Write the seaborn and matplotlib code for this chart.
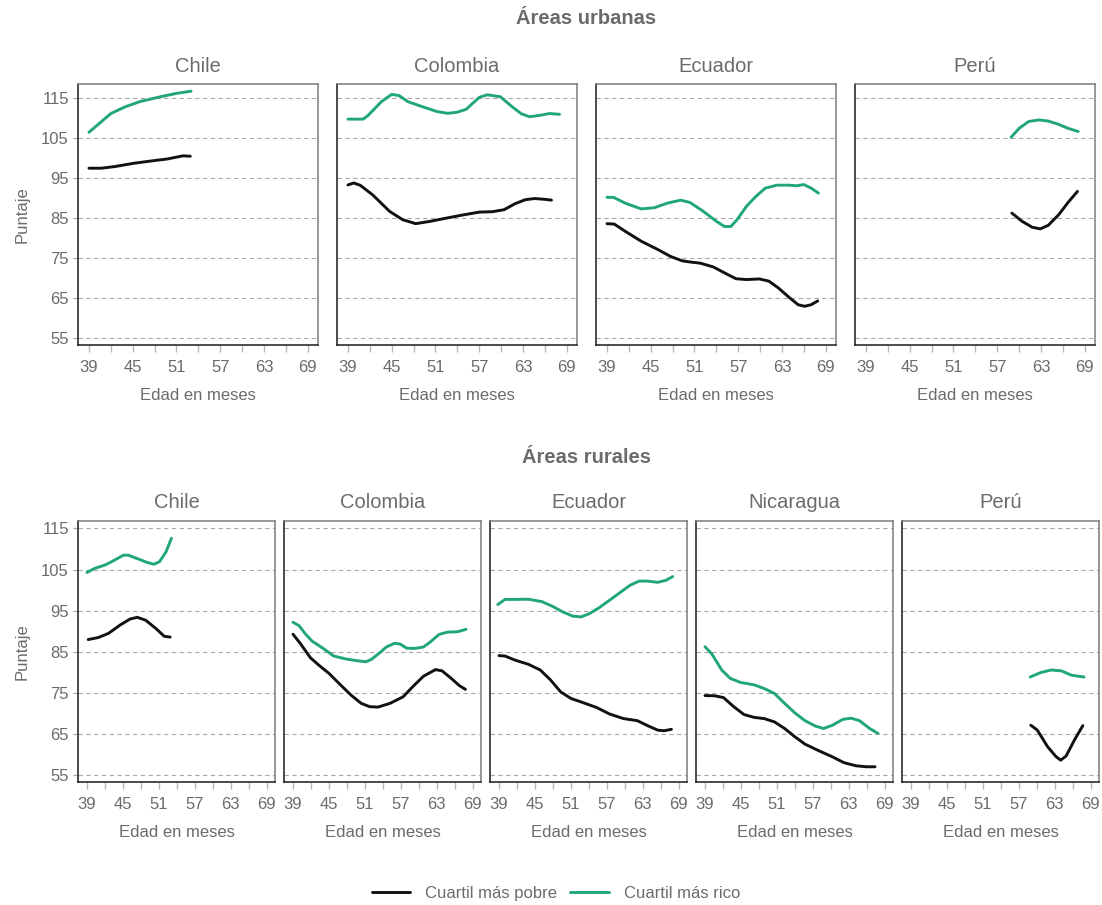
import numpy as np
import pandas as pd
import matplotlib
matplotlib.use("Agg")
import matplotlib.pyplot as plt
import seaborn as sns
from matplotlib.lines import Line2D

# ---- data: (edad en meses, puntaje) ----
GRUPOS = ["Cuartil más pobre", "Cuartil más rico"]
COLORES = {"Cuartil más pobre": "#111111", "Cuartil más rico": "#21a67a"}

PAISES_URB = ["Chile", "Colombia", "Ecuador", "Perú"]
PAISES_RUR = ["Chile", "Colombia", "Ecuador", "Nicaragua", "Perú"]

urb_chile_pobre = ([39, 40.7, 42.5, 45.2, 47.9, 49.7, 51.9, 52.9],
                   [97.5, 97.5, 97.9, 98.75, 99.4, 99.8, 100.6, 100.5])
urb_chile_rico = ([39, 42, 44, 46, 48.8, 51, 53],
                  [106.5, 111.2, 112.9, 114.2, 115.4, 116.25, 116.8])

urb_colombia_pobre = ([39, 39.8, 40.7, 42.4, 44.7, 46.5, 48.3, 50.3, 52.5, 54.8, 57, 58.8, 60.4,
                       61.9, 63.3, 64.6, 66, 66.9],
                      [93.3, 93.8, 93.2, 90.8, 86.7, 84.6, 83.6, 84.2, 85, 85.8, 86.5, 86.6, 87.1,
                       88.6, 89.6, 89.9, 89.7, 89.5])
urb_colombia_rico = ([39, 41.1, 41.8, 43.6, 45, 46, 47.2, 48.9, 51.2, 52.7, 53.9, 55.2, 57, 58.1,
                      59.9, 61.5, 62.8, 63.9, 65.5, 66.6, 68],
                     [109.8, 109.8, 110.8, 114.2, 116, 115.7, 114.2, 113.1, 111.7, 111.25, 111.5,
                      112.25, 115.25, 115.9, 115.4, 112.9, 111.1, 110.4, 110.8, 111.2, 111])

urb_ecuador_pobre = ([39, 40, 41.5, 43.7, 46, 47.7, 49.3, 50.4, 51.8, 53.6, 55.4, 56.7, 58.1, 59.9,
                      61.2, 62.5, 63.9, 65.2, 66.1, 67, 67.9],
                     [83.6, 83.5, 81.7, 79.2, 77.1, 75.4, 74.3, 74, 73.7, 72.75, 71, 69.8, 69.6,
                      69.75, 69.2, 67.5, 65.25, 63.3, 62.9, 63.3, 64.25])
urb_ecuador_rico = ([39, 39.9, 41.5, 43.7, 45.5, 47.3, 49.1, 50.4, 52.2, 54, 55.1, 56, 56.9, 58.1,
                     59.4, 60.7, 62.3, 63.9, 65, 66, 67, 68],
                    [90.2, 90.2, 88.75, 87.3, 87.6, 88.75, 89.5, 88.9, 86.7, 84.2, 82.9, 82.9, 84.75,
                     87.9, 90.4, 92.5, 93.25, 93.25, 93.1, 93.4, 92.5, 91.25])

urb_peru_pobre = ([59, 60.4, 61.8, 62.9, 64, 65.4, 66.7, 68],
                  [86.25, 84.2, 82.7, 82.3, 83.2, 85.8, 88.9, 91.7])
urb_peru_rico = ([58.9, 60, 61.3, 62.7, 64, 65.4, 66.7, 68.1],
                 [105.25, 107.5, 109.2, 109.6, 109.3, 108.5, 107.5, 106.7])

rur_chile_pobre = ([39.2, 40.9, 42.6, 44.5, 46.2, 47.4, 48.8, 50.5, 51.9, 52.9],
                   [88, 88.5, 89.5, 91.5, 93, 93.4, 92.7, 90.7, 88.8, 88.6])
rur_chile_rico = ([39, 40.3, 42, 43.1, 45.1, 45.9, 47.7, 49.1, 50.2, 51.1, 52.2, 53.1],
                  [104.3, 105.3, 106.1, 106.9, 108.5, 108.5, 107.5, 106.7, 106.3, 106.9, 109.3, 112.6])

rur_colombia_pobre = ([39, 40.2, 41.9, 43.3, 45, 47, 48.7, 50.4, 51.8, 53.2, 55.2, 57.4, 59.1, 60.8,
                       62.8, 63.9, 65.4, 66.8, 67.8],
                      [89.3, 87.1, 83.6, 81.8, 79.8, 76.9, 74.5, 72.5, 71.7, 71.6, 72.5, 74.1, 76.7,
                       79.1, 80.7, 80.4, 78.6, 76.8, 75.9])
rur_colombia_rico = ([39, 40, 41, 42.2, 43.9, 45.8, 47.8, 49.5, 51.2, 52.1, 53.5, 54.6, 56, 56.9, 58,
                      59.4, 60.8, 62, 63.4, 64.8, 66.5, 67.9],
                     [92.2, 91.4, 89.5, 87.6, 86, 84, 83.3, 82.9, 82.6, 83.2, 84.8, 86.2, 87.1, 86.9,
                      85.9, 85.85, 86.2, 87.5, 89.25, 89.8, 89.9, 90.5])

rur_ecuador_pobre = ([39, 40, 41.7, 43.9, 45.9, 47.6, 49.3, 51, 53, 55.3, 57.5, 59.8, 62.1, 63.8, 65.5,
                      66.6, 67.8],
                     [84.1, 84, 83, 82, 80.6, 78.2, 75.3, 73.7, 72.7, 71.5, 69.9, 68.8, 68.3, 67.1, 66,
                      65.85, 66.2])
rur_ecuador_rico = ([38.8, 40, 41.7, 43.9, 46.2, 47.9, 49.6, 51.3, 52.7, 54.1, 55.8, 57.5, 59.2, 60.9,
                     62.4, 63.8, 65.5, 66.9, 68],
                    [96.5, 97.75, 97.75, 97.8, 97.2, 96.1, 94.75, 93.7, 93.5, 94.3, 95.8, 97.6, 99.4,
                     101.2, 102.2, 102.2, 101.9, 102.4, 103.3])

rur_nicaragua_pobre = ([39, 40.6, 42.1, 43.8, 45.5, 47.2, 48.9, 50.6, 52.3, 54, 55.7, 58, 60.3, 62.2,
                        64.2, 65.9, 67.4],
                       [74.4, 74.35, 73.9, 71.7, 69.8, 69.1, 68.8, 68, 66.4, 64.4, 62.6, 61, 59.5, 58.1,
                        57.35, 57.1, 57.1])
rur_nicaragua_rico = ([39, 40.1, 41.8, 43.2, 44.9, 47.2, 48.9, 50.6, 52.3, 54, 55.7, 57.4, 58.8, 60.3,
                       62, 63.4, 64.8, 66.5, 67.9],
                      [86.25, 84.6, 80.6, 78.6, 77.6, 77, 76.1, 74.9, 72.5, 70.2, 68.3, 67, 66.4, 67.2,
                       68.6, 68.9, 68.3, 66.4, 65.2])

rur_peru_pobre = ([59, 60.1, 61.8, 63.2, 64, 64.9, 66.3, 67.7],
                  [67.2, 66, 62, 59.6, 58.7, 59.7, 63.6, 67.1])
rur_peru_rico = ([58.9, 60.7, 62.4, 64.1, 65.8, 67.9],
                 [78.9, 80, 80.6, 80.4, 79.35, 78.9])

URBANO = [(urb_chile_pobre, urb_chile_rico), (urb_colombia_pobre, urb_colombia_rico),
          (urb_ecuador_pobre, urb_ecuador_rico), (urb_peru_pobre, urb_peru_rico)]
RURAL = [(rur_chile_pobre, rur_chile_rico), (rur_colombia_pobre, rur_colombia_rico),
         (rur_ecuador_pobre, rur_ecuador_rico), (rur_nicaragua_pobre, rur_nicaragua_rico),
         (rur_peru_pobre, rur_peru_rico)]

Y_TICKS = [55, 65, 75, 85, 95, 105, 115]
X_TICKS = list(range(39, 70, 3))

GRIS = "#6b6b6b"


def _long(series_pair):
    rows = []
    for grupo, (xs, ys) in zip(GRUPOS, series_pair):
        for i, (x, y) in enumerate(zip(xs, ys)):
            rows.append({"edad": x, "puntaje": y, "grupo": grupo, "orden": i})
    return pd.DataFrame(rows)


def _panel(ax, pair, titulo, primero, ylim):
    df = _long(pair)
    sns.lineplot(data=df, x="edad", y="puntaje", hue="grupo", palette=COLORES,
                 estimator=None, sort=False, lw=2.1, legend=False, ax=ax, zorder=3)
    ax.set_xlim(37.5, 70.4)
    ax.set_ylim(*ylim)
    ax.set_yticks(Y_TICKS)
    ax.set_xticks(X_TICKS)
    ax.set_xticklabels([str(t) if (t - 39) % 6 == 0 else "" for t in X_TICKS])
    for y in Y_TICKS:
        ax.axhline(y, color="#a8a8a8", lw=0.8, ls=(0, (4, 3)), zorder=1)
    ax.tick_params(axis="x", bottom=True, direction="out", length=5, width=1.0,
                   color="#b8b8b8", labelcolor=GRIS, labelsize=12, pad=6)
    if primero:
        ax.tick_params(axis="y", left=True, direction="out", length=3.5, width=0.8,
                       color="#a8a8a8", labelcolor=GRIS, labelsize=12, pad=3)
        ax.set_ylabel("Puntaje", color=GRIS, fontsize=12, labelpad=8)
    else:
        ax.tick_params(axis="y", left=False, length=0, labelleft=False)
        ax.set_ylabel("")
    ax.set_xlabel("Edad en meses", color=GRIS, fontsize=12, labelpad=9)
    ax.set_title(titulo, color=GRIS, fontsize=14.5, pad=9)
    for s in ["left", "bottom"]:
        ax.spines[s].set_color("#1a1a1a")
        ax.spines[s].set_linewidth(1.1)
    for s in ["top", "right"]:
        ax.spines[s].set_color("#7a7a7a")
        ax.spines[s].set_linewidth(1.1)
    ax.grid(False)


def main():
    sns.set_style("white")
    plt.rcParams["font.family"] = ["Liberation Sans", "DejaVu Sans"]

    W, H = 1102, 905
    fig = plt.figure(figsize=(W / 100, H / 100), dpi=100)

    # top row (urbano)
    for i, (pais, pair) in enumerate(zip(PAISES_URB, URBANO)):
        left = 78 + i * 259
        ax = fig.add_axes([left / W, 1 - 345 / H, 240 / W, 261 / H])
        _panel(ax, pair, pais, i == 0, (53.2, 118.6))

    # bottom row (rural)
    for i, (pais, pair) in enumerate(zip(PAISES_RUR, RURAL)):
        left = 78 + i * 206
        ax = fig.add_axes([left / W, 1 - 782 / H, 197 / W, 261 / H])
        _panel(ax, pair, pais, i == 0, (53.4, 116.8))

    fig.text(586 / W, 1 - 19 / H, "Áreas urbanas", ha="center", va="center",
             fontsize=14.5, fontweight="bold", color=GRIS)
    fig.text(586 / W, 1 - 457 / H, "Áreas rurales", ha="center", va="center",
             fontsize=14.5, fontweight="bold", color=GRIS)

    handles = [Line2D([0], [0], color=COLORES[g], lw=2.1) for g in GRUPOS]
    leg = fig.legend(handles, GRUPOS, loc="center", bbox_to_anchor=(556 / W, 1 - 893 / H),
                     ncol=2, frameon=False, fontsize=12, handlelength=2.3,
                     columnspacing=0.8, handletextpad=0.9)
    for t in leg.get_texts():
        t.set_color(GRIS)

    fig.savefig("out.png", dpi=100)
    plt.close(fig)


if __name__ == "__main__":
    main()
